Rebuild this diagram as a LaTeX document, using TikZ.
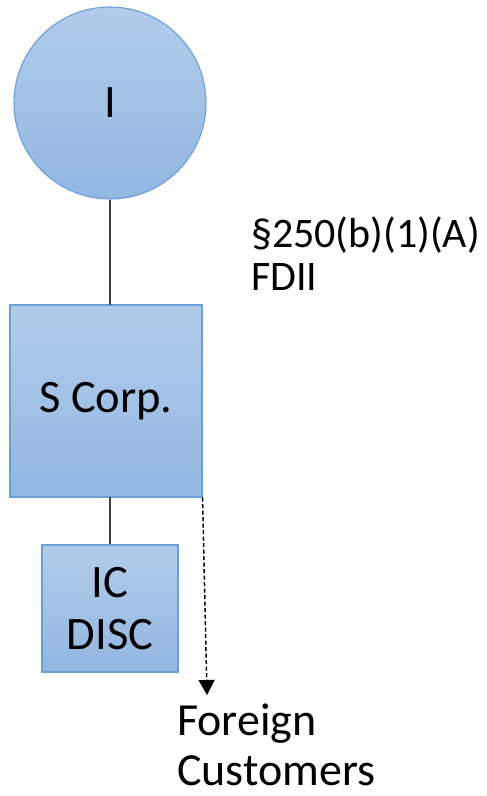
\documentclass[tikz,border=0pt]{standalone}
\usepackage{fontspec}
\setmainfont{Carlito}
\usetikzlibrary{arrows.meta}
\definecolor{fillTop}{HTML}{B2CCEA}
\definecolor{fillBot}{HTML}{92B7E2}
\definecolor{edgeBlue}{HTML}{6A9FD8}
\definecolor{linkGray}{HTML}{404040}
\tikzset{
  entity/.style={draw=edgeBlue, line width=1.1pt, top color=fillTop, bottom color=fillBot,
    inner sep=0pt, font=\fontsize{46.5}{54}\selectfont, align=center},
  link/.style={draw=linkGray, line width=1.8pt},
  flow/.style={draw=black, line width=1.5pt, dash pattern=on 4pt off 2.5pt,
    -{Triangle[length=15pt,width=16pt]}},
  caption/.style={inner sep=0pt, anchor=base west, align=left}
}
\begin{document}
\begin{tikzpicture}[x=1pt,y=1pt]
  \useasboundingbox (0,0) rectangle (487,-796);
  % individual shareholder
  \node[entity, circle, minimum size=192pt] (ind) at (110,-103) {I};
  % S corporation
  \node[entity, rectangle, minimum width=192pt, minimum height=192pt] (scorp) at (106,-401) {S Corp.};
  % IC-DISC subsidiary
  \node[entity, rectangle, minimum width=136pt, minimum height=127pt] (disc) at (110,-608.5) {IC\\[-2pt]DISC};
  % ownership links
  \draw[link] (ind.south) -- (110,-305);
  \draw[link] (110,-497) -- (disc.north);
  % labels (anchored at the baseline of their last line)
  \node[caption, font=\fontsize{42}{43}\selectfont] (fdii) at (251,-290) {§250(b)(1)(A)\\FDII};
  \node[caption, font=\fontsize{46}{50}\selectfont] (cust) at (177,-785) {Foreign\\Customers};
  % sales to foreign customers
  \coordinate (custtop) at (207,-695);
  \draw[flow] (scorp.south east) -- (custtop);
\end{tikzpicture}
\end{document}
